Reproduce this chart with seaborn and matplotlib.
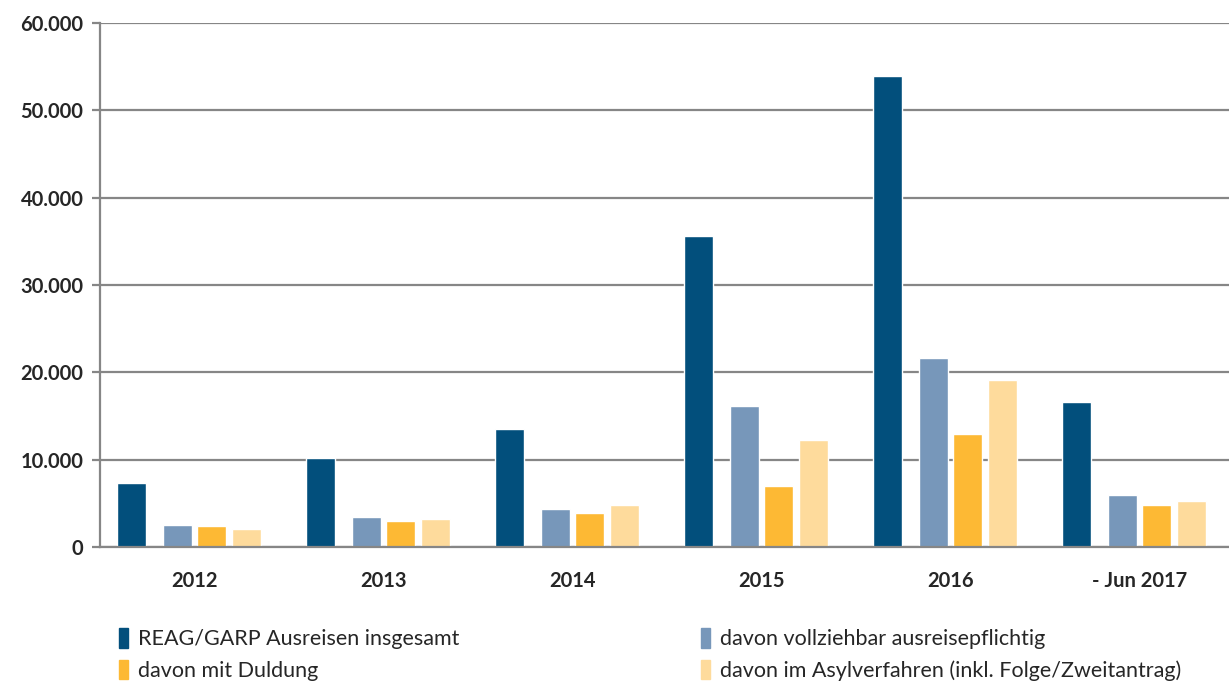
import numpy as np
import pandas as pd
import matplotlib
matplotlib.use("Agg")
import matplotlib.pyplot as plt
import matplotlib.patches as mpatches
import seaborn as sns

jahre = ["2012", "2013", "2014", "2015", "2016", "- Jun 2017"]
serien = [
    "REAG/GARP Ausreisen insgesamt",
    "davon vollziehbar ausreisepflichtig",
    "davon mit Duldung",
    "davon im Asylverfahren (inkl. Folge/Zweitantrag)",
]
reag_gesamt = [7350, 10150, 13550, 35600, 53900, 16550]
vollziehbar = [2550, 3450, 4350, 16100, 21600, 6000]
duldung = [2350, 3000, 3900, 6950, 12900, 4850]
asyl = [2100, 3200, 4850, 12200, 19100, 5300]
farben = ["#024f7c", "#7797ba", "#fdb934", "#fedb9c"]

df = pd.DataFrame({
    "Jahr": jahre * 4,
    "Serie": np.repeat(serien, len(jahre)),
    "Wert": reag_gesamt + vollziehbar + duldung + asyl,
})

sns.set_style("white")
plt.rcParams["font.family"] = ["Lato", "DejaVu Sans"]

fig = plt.figure(figsize=(12.29, 6.84), dpi=100)
ax = fig.add_axes([100 / 1229, 1 - 547 / 684, 1134 / 1229, 524 / 684])

sns.barplot(data=df, x="Jahr", y="Wert", hue="Serie", hue_order=serien,
            palette=farben, width=0.74, gap=0.17, saturation=1,
            legend=False, ax=ax)

# erste Serie steht im Original etwas weiter links
for bar in ax.containers[0]:
    bar.set_x(bar.get_x() - 0.058)

grau = "#868686"
ax.set_ylim(0, 60000)
ax.set_xlim(-0.5, 5.5)
ax.set_yticks(np.arange(0, 60001, 10000))
ax.set_yticklabels([f"{int(v):,}".replace(",", ".") for v in np.arange(0, 60001, 10000)],
                   fontsize=14.5, fontweight="bold")
ax.set_xticks(range(len(jahre)))
ax.set_xticklabels(jahre, fontsize=14.5, fontweight="bold")
ax.set_xticks(np.arange(-0.5, 5.6, 1), minor=True)
ax.tick_params(axis="x", which="major", length=0, pad=17)
ax.tick_params(axis="x", which="minor", length=6, width=1.6, color=grau, direction="out")
ax.tick_params(axis="y", length=6, width=1.6, color=grau, pad=6, left=True)
ax.yaxis.grid(True, color=grau, linewidth=1.6)
ax.set_axisbelow(True)
for s in ["top", "right"]:
    ax.spines[s].set_visible(False)
for s in ["left", "bottom"]:
    ax.spines[s].set_color(grau)
    ax.spines[s].set_linewidth(1.6)
ax.set_xlabel("")
ax.set_ylabel("")

handles = [mpatches.Patch(color=farben[i], label=serien[i]) for i in [0, 2, 1, 3]]
fig.legend(handles=handles, ncol=2, loc="upper left", bbox_to_anchor=(100 / 1229, 1 - 609 / 684),
           frameon=False, fontsize=15.5, handlelength=0.4, handleheight=1.0,
           handletextpad=0.45, columnspacing=11.25, labelspacing=0.5)

fig.savefig("out.png", dpi=100)
